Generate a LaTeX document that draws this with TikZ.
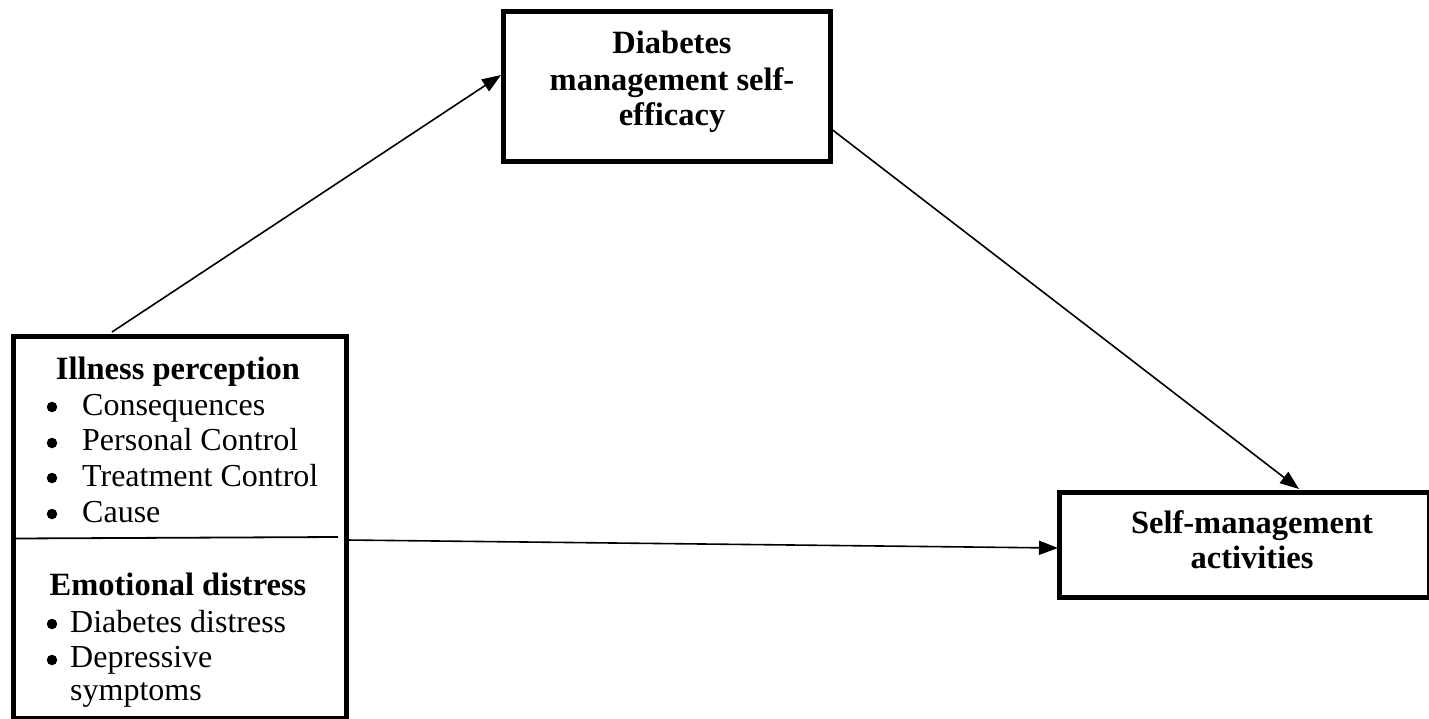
\documentclass[tikz,border=0pt]{standalone}
\usepackage{fontspec}
\setmainfont{Liberation Serif}
\usetikzlibrary{arrows.meta}
\begin{document}
\begin{tikzpicture}[x=1pt,y=-1pt,
  box/.style={draw=black,line width=5pt,inner sep=0pt},
  conn/.style={line width=1.6pt,-{Triangle[length=19pt,width=14pt]}},
  txt/.style={font=\fontsize{32}{36}\selectfont,anchor=base,inner sep=0pt},
  bold/.style={txt,font=\fontsize{32.5}{36}\selectfont\bfseries},
  item/.style={txt,anchor=base west},
  bul/.style={circle,fill=black,inner sep=0pt,minimum size=10.5pt}]
\useasboundingbox (0,0) rectangle (1429,718);
% boxes
\node[box,minimum width=327pt,minimum height=150pt] (dm) at (666.5,86) {};
\node[box,minimum width=370pt,minimum height=105pt] (sm) at (1244,544.5) {};
\node[box,minimum width=333pt,minimum height=382pt] (ip) at (179.5,527.5) {};
\coordinate (divL) at (14,538.5);
\coordinate (divR) at (338,537);
\draw[line width=1.8pt] (divL) -- (divR);
% texts in top box
\node[bold] (t1) at (672,53) {Diabetes};
\node[bold] (t2) at (672,90) {management self-};
\node[bold] (t3) at (672,125) {efficacy};
% texts in right box
\node[bold] (s1) at (1252,533) {Self-management};
\node[bold] (s2) at (1252,568) {activities};
% left box
\node[bold] (h1) at (178,379) {Illness perception};
\node[bul] (b1) at (52,407) {};
\node[item] (i1) at (82,415) {Consequences};
\node[bul] (b2) at (52,443) {};
\node[item] (i2) at (82,450) {Personal Control};
\node[bul] (b3) at (52,478) {};
\node[item] (i3) at (82,486) {Treatment Control};
\node[bul] (b4) at (52,514) {};
\node[item] (i4) at (82,522) {Cause};
\node[bold] (h2) at (178,595) {Emotional distress};
\node[bul] (b5) at (52,624) {};
\node[item] (i5) at (70,632) {Diabetes distress};
\node[bul] (b6) at (52,660) {};
\node[item] (i6) at (70,667) {Depressive};
\node[item] (i7) at (70,700) {symptoms};
% connectors
\coordinate (a1s) at (112,332);
\coordinate (a1e) at (501,75);
\coordinate (a2s) at (830,128);
\coordinate (a2e) at (1299,489);
\coordinate (a3s) at (347,540);
\coordinate (a3e) at (1058,548);
\draw[conn] (a1s) -- (a1e);
\draw[conn] (a2s) -- (a2e);
\draw[conn] (a3s) -- (a3e);
\end{tikzpicture}
\end{document}
